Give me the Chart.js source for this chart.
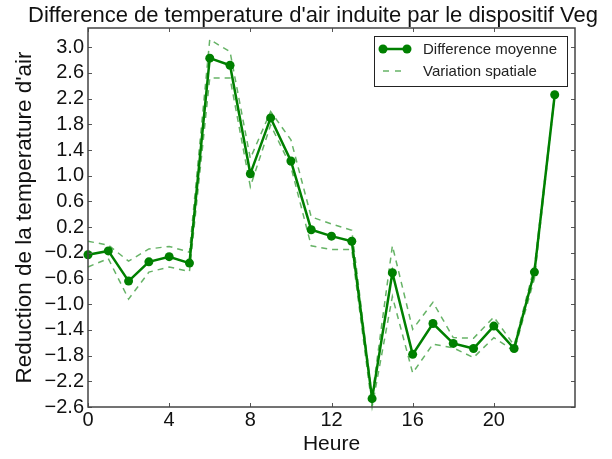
<!DOCTYPE html>
<html>
<head>
<meta charset="utf-8">
<script src="https://cdn.jsdelivr.net/npm/chart.js@4"></script>
<style>
  body { margin: 0; background: #fff; }
  #wrap { width: 612px; height: 459px; }
</style>
</head>
<body>
<div id="wrap"><canvas id="chart" width="612" height="459"></canvas></div>
<script>
// heures de la journee
const hours = [0, 1, 2, 3, 4, 5, 6, 7, 8, 9, 10, 11, 12, 13, 14, 15, 16, 17, 18, 19, 20, 21, 22, 23];
// difference moyenne
const meanDiff = [-0.23, -0.17, -0.64, -0.34, -0.26, -0.36, 2.83, 2.72, 1.03, 1.90, 1.23, 0.16,
  0.06, -0.02, -2.47, -0.51, -1.78, -1.30, -1.61, -1.69, -1.34, -1.69, -0.50, 2.26];
// variation spatiale (haut / bas)
const upperDiff = [-0.02, -0.08, -0.33, -0.14, -0.10, -0.19, 3.12, 2.93, 1.27, 2.00, 1.56, 0.36,
  0.25, 0.15, -2.44, -0.09, -1.39, -0.97, -1.52, -1.53, -1.20, -1.64, -0.42, 2.27];
const lowerDiff = [-0.42, -0.29, -0.92, -0.50, -0.42, -0.49, 2.52, 2.52, 0.83, 1.79, 1.14, -0.09,
  -0.15, -0.15, -2.60, -0.88, -2.07, -1.62, -1.68, -1.83, -1.52, -1.73, -0.60, 2.25];

const xTicks = [0, 4, 8, 12, 16, 20];
const yTicks = [-2.6, -2.2, -1.8, -1.4, -1.0, -0.6, -0.2, 0.2, 0.6, 1.0, 1.4, 1.8, 2.2, 2.6, 3.0];

const titleText = "Difference de temperature d'air induite par le dispositif Veg";

const green = "#008000";
const lightGreen = "rgba(0,128,0,0.6)";
const fontFam = "'Liberation Sans', Arial, sans-serif";

const toPts = (arr) => hours.map((h, i) => ({ x: h, y: arr[i] }));

// titre, petites graduations vers l'interieur + legende style matplotlib
const extras = {
  id: "extras",
  afterDraw(chart) {
    const ctx = chart.ctx;
    const a = chart.chartArea;
    const xs = chart.scales.x, ys = chart.scales.y;
    ctx.save();

    ctx.fillStyle = "#111";
    ctx.font = "22px " + fontFam;
    ctx.textAlign = "left";
    ctx.textBaseline = "alphabetic";
    ctx.fillText(titleText, 28, 22);

    ctx.strokeStyle = "#555";
    ctx.lineWidth = 1;
    ctx.beginPath();
    xTicks.forEach((t) => {
      const px = Math.round(xs.getPixelForValue(t)) + 0.5;
      ctx.moveTo(px, a.bottom); ctx.lineTo(px, a.bottom - 4);
      ctx.moveTo(px, a.top); ctx.lineTo(px, a.top + 4);
    });
    yTicks.forEach((t) => {
      const py = Math.round(ys.getPixelForValue(t)) + 0.5;
      ctx.moveTo(a.left, py); ctx.lineTo(a.left + 4, py);
      ctx.moveTo(a.right, py); ctx.lineTo(a.right - 4, py);
    });
    ctx.stroke();
    ctx.strokeStyle = "#444";
    ctx.lineWidth = 1.5;
    ctx.strokeRect(a.left, a.top, a.right - a.left, a.bottom - a.top);

    // legende
    const lx = 374, ly = 36, lw = 193, lh = 50;
    ctx.fillStyle = "#fff";
    ctx.fillRect(lx, ly, lw, lh);
    ctx.strokeStyle = "#222";
    ctx.lineWidth = 1;
    ctx.strokeRect(lx + 0.5, ly + 0.5, lw, lh);

    const y1 = ly + 13;
    ctx.strokeStyle = green;
    ctx.lineWidth = 2.5;
    ctx.beginPath(); ctx.moveTo(383, y1); ctx.lineTo(407, y1); ctx.stroke();
    ctx.fillStyle = green;
    [383, 407].forEach((px) => {
      ctx.beginPath(); ctx.arc(px, y1, 4.5, 0, Math.PI * 2); ctx.fill();
    });
    const y2 = ly + 35;
    ctx.strokeStyle = lightGreen;
    ctx.lineWidth = 1.5;
    ctx.setLineDash([6, 6]);
    ctx.beginPath(); ctx.moveTo(383, y2); ctx.lineTo(407, y2); ctx.stroke();
    ctx.setLineDash([]);

    ctx.fillStyle = "#222";
    ctx.font = "15px " + fontFam;
    ctx.textBaseline = "middle";
    ctx.textAlign = "left";
    ctx.fillText("Difference moyenne", 423, y1 + 1);
    ctx.fillText("Variation spatiale", 423, y2 + 1);
    ctx.restore();
  },
};

new Chart(document.getElementById("chart").getContext("2d"), {
  type: "line",
  data: {
    datasets: [
      {
        label: "Difference moyenne",
        data: toPts(meanDiff),
        borderColor: green,
        backgroundColor: green,
        borderWidth: 2.5,
        pointRadius: 4.5,
        pointBorderWidth: 0,
        pointBackgroundColor: green,
        tension: 0,
        order: 0,
      },
      {
        label: "Variation spatiale",
        data: toPts(upperDiff),
        borderColor: lightGreen,
        borderWidth: 1.5,
        borderDash: [6, 5],
        pointRadius: 0,
        tension: 0,
        order: 1,
      },
      {
        label: "_bas",
        data: toPts(lowerDiff),
        borderColor: lightGreen,
        borderWidth: 1.5,
        borderDash: [6, 5],
        pointRadius: 0,
        tension: 0,
        order: 1,
      },
    ],
  },
  options: {
    responsive: false,
    animation: false,
    clip: false,
    layout: { padding: { top: 28, right: 37, left: 0, bottom: 0 } },
    plugins: {
      legend: { display: false },
      tooltip: { enabled: false },
      title: { display: false },
    },
    scales: {
      x: {
        type: "linear",
        min: 0,
        max: 24,
        afterBuildTicks: (s) => { s.ticks = xTicks.map((v) => ({ value: v })); },
        afterFit: (s) => { s.height = 52; },
        grid: { display: false, drawTicks: false },
        border: { display: false },
        ticks: { color: "#111", font: { family: fontFam, size: 20 }, padding: 1, maxRotation: 0 },
        title: {
          display: true,
          text: "Heure",
          color: "#111",
          font: { family: fontFam, size: 21 },
          padding: { top: 0, bottom: 2 },
        },
      },
      y: {
        min: -2.6,
        max: 3.3,
        afterBuildTicks: (s) => { s.ticks = yTicks.map((v) => ({ value: v })); },
        afterFit: (s) => { s.width = 88; },
        grid: { display: false, drawTicks: false },
        border: { display: false },
        ticks: {
          color: "#111",
          font: { family: fontFam, size: 20 },
          padding: 4,
          callback: (v) => (v < 0 ? "\u2212" + Math.abs(v).toFixed(1) : v.toFixed(1)),
        },
        title: {
          display: true,
          text: "Reduction de la temperature d'air",
          color: "#111",
          font: { family: fontFam, size: 22.5 },
          padding: { top: 11, bottom: 0 },
        },
      },
    },
  },
  plugins: [extras],
});
</script>
</body>
</html>
